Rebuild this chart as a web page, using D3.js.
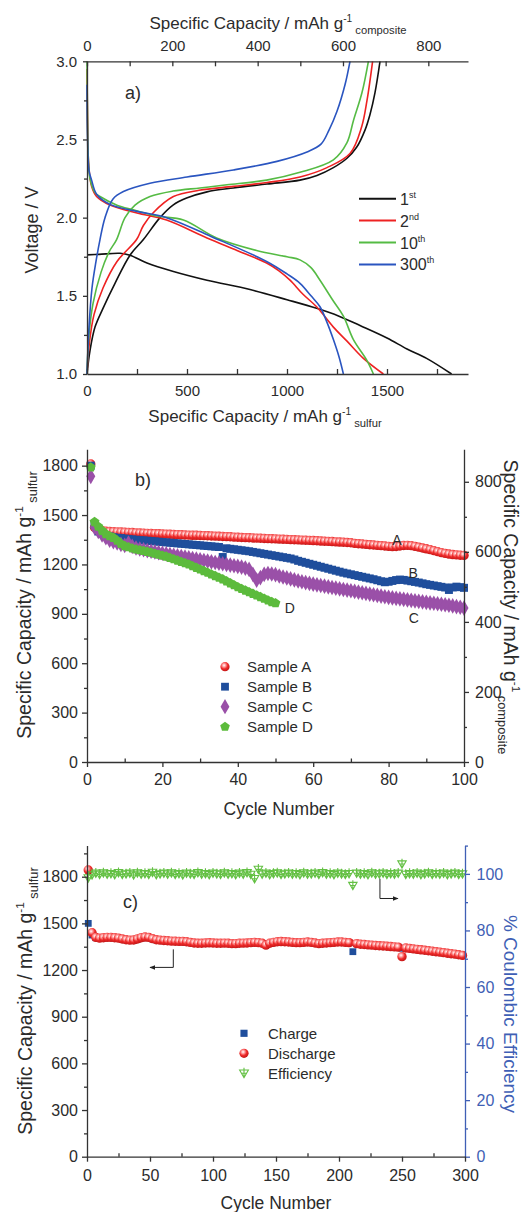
<!DOCTYPE html>
<html lang="en">
<head>
<meta charset="utf-8">
<script src="https://cdn.jsdelivr.net/npm/d3@7"></script>
<style>
  body { margin: 0; background: #fff; }
  svg text { font-family: "Liberation Sans", Arial, Helvetica, sans-serif; fill: #2b2b2b; }
  .axis path, .axis line { stroke: #333; stroke-width: 1.3; }
</style>
</head>
<body>
<svg id="fig" width="530" height="1212"></svg>
<script>
// ---------- panel a: voltage profiles [capacity mAh/g sulfur, voltage V] ----------
var chg1st = [[0,1.0],[15,1.15],[40,1.3],[80,1.42],[140,1.58],[215,1.76],[282,1.86],[365,2.0],[430,2.08],[498,2.125],[600,2.165],[732,2.19],[900,2.215],[1065,2.24],[1150,2.27],[1232,2.32],[1300,2.38],[1348,2.45],[1390,2.56],[1415,2.66],[1440,2.8],[1465,3.0]];
var dis1st = [[0,1.762],[60,1.765],[165,1.772],[215,1.76],[300,1.71],[432,1.656],[600,1.6],[815,1.54],[1000,1.475],[1148,1.42],[1260,1.37],[1365,1.31],[1500,1.23],[1600,1.16],[1698,1.10],[1823,1.0]];
var chg2nd = [[0,1.0],[12,1.2],[35,1.38],[80,1.55],[150,1.72],[248,1.86],[282,1.95],[330,2.03],[432,2.135],[560,2.175],[732,2.2],[900,2.225],[1065,2.26],[1200,2.32],[1315,2.41],[1373,2.58],[1400,2.75],[1428,3.0]];
var dis2nd = [[0,2.95],[3,2.6],[8,2.35],[23,2.2],[48,2.135],[115,2.08],[250,2.03],[398,1.985],[600,1.87],[750,1.79],[898,1.71],[960,1.66],[1015,1.6],[1080,1.51],[1148,1.43],[1232,1.30],[1300,1.21],[1382,1.10],[1482,1.0]];
var chg10th = [[0,1.0],[10,1.25],[30,1.45],[70,1.65],[110,1.78],[148,1.86],[190,2.0],[240,2.08],[315,2.135],[430,2.17],[565,2.19],[700,2.21],[898,2.24],[1065,2.29],[1232,2.37],[1300,2.48],[1332,2.62],[1375,2.8],[1407,3.0]];
var dis10th = [[0,3.0],[2,2.7],[6,2.4],[15,2.25],[40,2.16],[65,2.135],[150,2.08],[232,2.05],[350,2.01],[482,1.985],[648,1.87],[848,1.79],[1000,1.75],[1065,1.73],[1120,1.68],[1165,1.6],[1230,1.47],[1282,1.37],[1332,1.22],[1398,1.09],[1432,1.0]];
var chg300th = [[0,1.0],[10,1.3],[25,1.55],[45,1.72],[65,1.86],[90,2.0],[130,2.12],[182,2.167],[315,2.22],[500,2.26],[732,2.305],[950,2.36],[1100,2.42],[1170,2.47],[1210,2.56],[1250,2.68],[1290,2.85],[1315,3.0]];
var dis300th = [[0,2.85],[3,2.5],[10,2.3],[23,2.24],[48,2.15],[115,2.085],[250,2.04],[398,2.0],[620,1.88],[898,1.72],[1000,1.64],[1065,1.58],[1120,1.5],[1165,1.43],[1200,1.33],[1232,1.22],[1260,1.11],[1282,1.0]];
var cycleNames = ["1", "2", "10", "300"];
var cycleSups = ["st", "nd", "th", "th"];
var cycleColors = ["#111111", "#ee2222", "#55bb44", "#2a55c0"];

var aSulfurTicks = [0, 500, 1000, 1500], aSulfurMinor = [250, 750, 1250, 1750];
var aCompTicks = [0, 200, 400, 600, 800], aCompMinor = [100, 300, 500, 700];
var aVoltTicks = [1.0, 1.5, 2.0, 2.5, 3.0], aVoltMinor = [1.25, 1.75, 2.25, 2.75];

// ---------- panel b: cycling of four samples (mAh/g sulfur) ----------
var bCycles = d3.range(1, 101);
var sampleA = [1810,1425,1412,1405,1402,1400,1399,1398,1397,1396,
  1395,1394,1392,1391,1390,1389,1388,1387,1386,1385,
  1384,1383,1382,1381,1380,1379,1378,1377,1377,1376,
  1375,1374,1373,1372,1371,1370,1369,1368,1366,1365,
  1364,1363,1362,1361,1360,1359,1358,1357,1356,1355,
  1354,1353,1352,1351,1350,1349,1348,1347,1346,1345,
  1344,1342,1341,1340,1339,1337,1336,1335,1333,1332,
  1328,1326,1324,1322,1320,1318,1316,1314,1312,1310,
  1308,1309,1312,1315,1316,1314,1310,1305,1300,1295,
  1290,1284,1278,1272,1267,1263,1260,1258,1256,1255];
var sampleB = [1800,1440,1400,1385,1375,1370,1365,1362,1360,1357,
  1355,1352,1350,1348,1346,1344,1342,1340,1338,1336,
  1334,1332,1330,1328,1326,1324,1322,1320,1318,1316,
  1314,1312,1310,1308,1306,1245,1298,1295,1292,1289,
  1286,1283,1280,1276,1272,1268,1264,1260,1256,1252,
  1248,1244,1240,1236,1230,1222,1216,1210,1204,1198,
  1192,1186,1180,1174,1168,1162,1156,1150,1145,1140,
  1135,1130,1125,1120,1115,1110,1104,1098,1092,1095,
  1100,1105,1108,1106,1102,1098,1094,1090,1085,1080,
  1076,1072,1068,1064,1060,1045,1060,1065,1062,1058];
var sampleC = [1735,1425,1400,1380,1362,1348,1338,1330,1322,1316,
  1330,1310,1300,1294,1289,1284,1280,1276,1272,1268,
  1264,1260,1256,1252,1248,1244,1240,1236,1232,1228,
  1224,1220,1216,1212,1208,1204,1200,1196,1192,1188,
  1184,1178,1170,1140,1105,1120,1140,1145,1142,1138,
  1130,1124,1118,1112,1106,1100,1095,1090,1085,1080,
  1076,1072,1068,1064,1060,1056,1052,1048,1044,1040,
  1036,1032,1028,1024,1020,1016,1012,1008,1004,1000,
  997,994,991,988,985,982,979,976,973,970,
  967,964,961,958,955,952,948,944,940,935];
var sampleD = [1790,1458,1430,1405,1385,1372,1362,1345,1325,1312,
  1305,1298,1292,1287,1282,1277,1272,1266,1260,1254,
  1248,1240,1232,1224,1216,1208,1200,1190,1180,1170,
  1160,1150,1140,1130,1120,1110,1098,1086,1074,1062,
  1052,1042,1032,1022,1012,1002,992,982,972,965];
var sampleNames = ["Sample A", "Sample B", "Sample C", "Sample D"];
var bCycleTicks = [0, 20, 40, 60, 80, 100], bCycleMinor = [10, 30, 50, 70, 90];
var bCapTicks = [0, 300, 600, 900, 1200, 1500, 1800], bCapMinor = [150, 450, 750, 1050, 1350, 1650];
var bCompTicks = [0, 200, 400, 600, 800], bCompMinor = [100, 300, 500, 700];

// ---------- panel c: 300 cycles of one cell (every third cycle) ----------
var cCycles = d3.range(1, 300, 3);
var cCharge = [1500,1425,1408,1404,1406,1409,1409,1407,1403,1398,
  1394,1391,1392,1399,1406,1410,1408,1400,1394,1390,
  1388,1386,1384,1383,1382,1382,1380,1376,1372,1370,
  1371,1372,1374,1373,1371,1370,1372,1371,1369,1368,
  1371,1372,1373,1375,1376,1375,1371,1365,1371,1376,
  1381,1382,1381,1379,1377,1375,1375,1377,1379,1377,
  1373,1369,1371,1373,1375,1377,1379,1379,1377,1375,
  1318,1369,1365,1363,1361,1359,1357,1355,1354,1352,
  1350,1348,1346,1340,1341,1338,1335,1332,1329,1326,
  1323,1320,1317,1314,1311,1307,1304,1301,1297,1293];
var cDischarge = [1843,1440,1410,1405,1408,1410,1410,1408,1405,1400,
  1395,1392,1393,1400,1408,1412,1410,1402,1395,1392,
  1390,1388,1386,1385,1384,1384,1382,1378,1374,1372,
  1372,1374,1375,1374,1372,1372,1373,1372,1370,1370,
  1372,1373,1374,1376,1378,1376,1372,1360,1372,1378,
  1382,1383,1382,1380,1378,1376,1376,1378,1380,1378,
  1374,1370,1372,1374,1376,1378,1380,1380,1378,1376,
  1374,1370,1366,1364,1362,1360,1358,1356,1355,1353,
  1351,1349,1347,1286,1342,1339,1336,1333,1330,1327,
  1324,1321,1318,1315,1312,1308,1305,1302,1298,1294];
var cEfficiency = [98.6,99.6,100.2,99.8,100.3,99.9,100.1,99.7,100.4,99.8,
  100.0,100.2,99.6,100.3,99.9,100.1,99.8,100.5,99.7,100.0,
  100.2,99.9,100.3,99.8,100.1,99.6,100.2,100.0,99.8,100.4,
  99.9,100.1,99.7,100.2,100.0,99.8,100.3,99.9,100.1,99.7,
  100.2,99.9,100.4,99.8,98.3,101.6,99.9,100.2,99.7,100.1,
  100.3,99.8,100.0,100.2,99.9,100.1,99.7,100.3,99.9,100.0,
  100.2,99.8,100.4,99.9,100.1,99.7,100.2,100.0,99.8,100.1,
  95.9,100.2,99.9,100.1,99.7,100.3,99.9,100.0,100.2,99.8,
  100.1,99.9,100.2,103.5,99.8,100.1,99.9,100.2,99.7,100.0,
  100.3,99.8,100.1,99.9,100.2,99.7,100.0,100.2,99.8,100.0];
var cSeriesNames = ["Charge", "Discharge", "Efficiency"];
var cCycleTicks = [0, 50, 100, 150, 200, 250, 300], cCycleMinor = [25, 75, 125, 175, 225, 275];
var cCapTicks = [0, 300, 600, 900, 1200, 1500, 1800], cCapMinor = [150, 450, 750, 1050, 1350, 1650, 1950];
var cEffTicks = [0, 20, 40, 60, 80, 100], cEffMinor = [10, 30, 50, 70, 90, 110];

var svg = d3.select("#fig");
var FONT_T = 19.5;

// ---- defs: shaded ball and arrow head ----
var defs = svg.append("defs");
var grad = defs.append("radialGradient").attr("id", "ball")
  .attr("cx", "40%").attr("cy", "35%").attr("r", "65%");
grad.append("stop").attr("offset", "0%").attr("stop-color", "#ffffff");
grad.append("stop").attr("offset", "28%").attr("stop-color", "#ff9c9c");
grad.append("stop").attr("offset", "60%").attr("stop-color", "#ee2b2b");
grad.append("stop").attr("offset", "100%").attr("stop-color", "#c41616");
defs.append("marker").attr("id", "arr").attr("viewBox", "0 0 10 10")
  .attr("refX", 9).attr("refY", 5).attr("markerWidth", 6).attr("markerHeight", 6)
  .attr("orient", "auto")
  .append("path").attr("d", "M0,1L10,5L0,9Z").attr("fill", "#222");

// draw one axis as a major + minor pair
function addAxis(orient, scale, x, y, major, minor, o) {
  var mk = {left: d3.axisLeft, right: d3.axisRight, top: d3.axisTop, bottom: d3.axisBottom}[orient];
  var gMin = svg.append("g").attr("class", "axis").attr("transform", "translate(" + x + "," + y + ")")
    .call(mk(scale).tickValues(minor).tickSize(o.minor).tickFormat(""));
  gMin.select(".domain").remove();
  var g = svg.append("g").attr("class", "axis").attr("transform", "translate(" + x + "," + y + ")")
    .call(mk(scale).tickValues(major).tickSize(o.size).tickSizeOuter(0).tickPadding(o.pad)
      .tickFormat(o.fmt || d3.format("d")));
  g.selectAll("text").style("font-size", o.font + "px");
  if (o.color) {
    g.selectAll("path,line").style("stroke", o.color);
    gMin.selectAll("line").style("stroke", o.color);
    g.selectAll("text").style("fill", o.color);
  }
  return g;
}

// title with g^-1 and a subscript
function capTitle(x, y, rot, size, sub) {
  var t = svg.append("text").attr("transform", "translate(" + x + "," + y + ") rotate(" + rot + ")")
    .attr("text-anchor", "middle").style("font-size", size + "px");
  t.append("tspan").text("Specific Capacity / mAh g");
  t.append("tspan").text("-1").attr("dy", -0.42 * size).style("font-size", (size * 0.6) + "px");
  t.append("tspan").text(" " + sub).attr("dy", 0.72 * size).style("font-size", (size * 0.66) + "px");
  return t;
}

function pentagon(r) {
  var p = d3.path();
  for (var k = 0; k < 5; k++) {
    var a = -Math.PI / 2 + k * 2 * Math.PI / 5;
    if (k === 0) p.moveTo(r * Math.cos(a), r * Math.sin(a));
    else p.lineTo(r * Math.cos(a), r * Math.sin(a));
  }
  p.closePath();
  return p.toString();
}
function effSymbol(r) {
  return "M" + (-r) + "," + (-r * 0.75) + "L" + r + "," + (-r * 0.75) + "L0," + r + "Z" +
    "M0," + (-r * 1.25) + "L0," + r + "M" + (-r * 0.6) + ",0L" + (r * 0.6) + ",0";
}

// =================== panel a ===================
var xa = d3.scaleLinear().domain([0, 1905]).range([87, 468]);
var xaTop = d3.scaleLinear().domain([0, 893]).range([87, 468]);
var ya = d3.scaleLinear().domain([1, 3]).range([374, 61.3]);

var lineA = d3.line().x(function(d) { return xa(d[0]); }).y(function(d) { return ya(d[1]); })
  .curve(d3.curveCatmullRom.alpha(0.5));
var aCurves = [[chg1st, dis1st], [chg2nd, dis2nd], [chg10th, dis10th], [chg300th, dis300th]];
aCurves.forEach(function(pair, i) {
  pair.forEach(function(c) {
    svg.append("path").attr("d", lineA(c)).attr("fill", "none")
      .attr("stroke", cycleColors[i]).attr("stroke-width", 1.6);
  });
});

addAxis("left", ya, 87, 0, aVoltTicks, aVoltMinor, {size: 4, minor: 3, pad: 6, font: 15, fmt: d3.format(".1f")});
addAxis("bottom", xa, 0, 374, aSulfurTicks, aSulfurMinor, {size: -5, minor: -5, pad: 11, font: 15});
addAxis("top", xaTop, 0, 61.3, aCompTicks, aCompMinor, {size: -5, minor: -5, pad: 10, font: 15});

capTitle(278, 29, 0, 17, "composite");
capTitle(265, 422, 0, 17, "sulfur");
svg.append("text").attr("transform", "translate(38,230) rotate(-90)").attr("text-anchor", "middle")
  .style("font-size", "18px").text("Voltage / V");
svg.append("text").attr("x", 125).attr("y", 99).style("font-size", "18px").text("a)");

// legend a
cycleNames.forEach(function(n, i) {
  var ly = 198.7 + i * 21.9;
  svg.append("line").attr("x1", 359).attr("x2", 396).attr("y1", ly).attr("y2", ly)
    .attr("stroke", cycleColors[i]).attr("stroke-width", 2);
  var t = svg.append("text").attr("x", 400).attr("y", ly + 6).style("font-size", "16px");
  t.append("tspan").text(n);
  t.append("tspan").text(cycleSups[i]).attr("dy", -7).style("font-size", "9px");
});

// =================== panel b ===================
var xb = d3.scaleLinear().domain([0, 100]).range([87, 464]);
var yb = d3.scaleLinear().domain([0, 1900]).range([762, 449.2]);
var yb2 = d3.scaleLinear().domain([0, 893]).range([762, 449.2]);

var bSeries = [sampleA, sampleB, sampleC, sampleD];
var bColors = ["#e8282a", "#1f4e9c", "#9a50a8", "#5cbb3c"];
function drawMarker(g, kind, color, s) {
  if (kind === 0) g.append("circle").attr("r", s).attr("fill", "url(#ball)");
  else if (kind === 1) g.append("rect").attr("x", -s * 0.85).attr("y", -s * 0.85)
    .attr("width", s * 1.7).attr("height", s * 1.7).attr("fill", color);
  else if (kind === 2) g.append("path").attr("d", d3.symbol(d3.symbolDiamond, s * s * 3.2)()).attr("fill", color);
  else if (kind === 3) g.append("path").attr("d", pentagon(s * 1.1)).attr("fill", color);
}
bSeries.forEach(function(vals, si) {
  var gs = svg.append("g");
  vals.forEach(function(v, i) {
    var g = gs.append("g").attr("transform", "translate(" + xb(bCycles[i]) + "," + yb(v) + ")");
    drawMarker(g, si, bColors[si], 4.7);
  });
});

addAxis("left", yb, 87, 0, bCapTicks, bCapMinor, {size: 5, minor: 3, pad: 4, font: 16});
addAxis("right", yb2, 464, 0, bCompTicks, bCompMinor, {size: 5, minor: 3, pad: 6, font: 16});
addAxis("bottom", xb, 0, 762, bCycleTicks, bCycleMinor, {size: 5, minor: -3.5, pad: 6.5, font: 16});

capTitle(31, 605, -90, FONT_T, "sulfur");
capTitle(504, 607, 90, FONT_T, "composite");
svg.append("text").attr("x", 279).attr("y", 815).attr("text-anchor", "middle")
  .style("font-size", "17.5px").text("Cycle Number");
svg.append("text").attr("x", 135).attr("y", 486).style("font-size", "18px").text("b)");

// curve labels
var bLabels = [["A", 82.2, 1318], ["B", 86.5, 1117], ["C", 86.7, 844], ["D", 53.8, 905]];
bLabels.forEach(function(l) {
  svg.append("text").attr("x", xb(l[1])).attr("y", yb(l[2])).attr("text-anchor", "middle")
    .style("font-size", "14px").text(l[0]);
});

// legend b
sampleNames.forEach(function(n, i) {
  var ly = 666.7 + i * 20;
  var g = svg.append("g").attr("transform", "translate(225," + ly + ")");
  drawMarker(g, i, bColors[i], 4.6);
  svg.append("text").attr("x", 247).attr("y", ly + 5.5).style("font-size", "15px").text(n);
});

// =================== panel c ===================
var xc = d3.scaleLinear().domain([0, 300]).range([87, 465]);
var yc = d3.scaleLinear().domain([0, 2000]).range([1156.7, 845.6]);
var yc2 = d3.scaleLinear().domain([0, 110]).range([1156.7, 845.6]);
var effBlue = "#3f5fb5";

var gCh = svg.append("g");
cCharge.forEach(function(v, i) {
  var g = gCh.append("g").attr("transform", "translate(" + xc(cCycles[i]) + "," + yc(v) + ")");
  drawMarker(g, 1, "#1f4e9c", 4.0);
});
var gDis = svg.append("g");
cDischarge.forEach(function(v, i) {
  if (i === 70) return;
  var g = gDis.append("g").attr("transform", "translate(" + xc(cCycles[i]) + "," + yc(v) + ")");
  drawMarker(g, 0, "#e8282a", 4.7);
});
var gEff = svg.append("g");
cEfficiency.forEach(function(v, i) {
  gEff.append("path").attr("transform", "translate(" + xc(cCycles[i]) + "," + yc2(v) + ")")
    .attr("d", effSymbol(4.2)).attr("fill", "none").attr("stroke", "#63c043").attr("stroke-width", 1.1);
});

addAxis("left", yc, 87, 0, cCapTicks, cCapMinor, {size: 5, minor: 3, pad: 4, font: 16});
addAxis("right", yc2, 465, 0, cEffTicks, cEffMinor, {size: 5, minor: 3, pad: 6.5, font: 16, color: effBlue});
addAxis("bottom", xc, 0, 1156.7, cCycleTicks, cCycleMinor, {size: 5, minor: -3.5, pad: 8, font: 16});

capTitle(32, 1001, -90, FONT_T, "sulfur");
svg.append("text").attr("transform", "translate(504,1014) rotate(90)").attr("text-anchor", "middle")
  .style("font-size", "19px").style("fill", effBlue).text("% Coulombic Efficiency");
svg.append("text").attr("x", 276).attr("y", 1209).attr("text-anchor", "middle")
  .style("font-size", "17.5px").text("Cycle Number");
svg.append("text").attr("x", 123).attr("y", 908).style("font-size", "18px").text("c)");

// axis-pointer arrows
var arrowLine = d3.line();
svg.append("path").attr("d", arrowLine([[xc(232.5), yc2(98.3)], [xc(232.5), yc2(91.3)], [xc(246.8), yc2(91.3)]]))
  .attr("fill", "none").attr("stroke", "#222").attr("stroke-width", 1).attr("marker-end", "url(#arr)");
svg.append("path").attr("d", arrowLine([[xc(68.5), yc(1333)], [xc(68.5), yc(1217)], [xc(50), yc(1217)]]))
  .attr("fill", "none").attr("stroke", "#222").attr("stroke-width", 1).attr("marker-end", "url(#arr)");

// legend c
cSeriesNames.forEach(function(n, i) {
  var ly = 1033.3 + i * 20;
  var g = svg.append("g").attr("transform", "translate(244," + ly + ")");
  if (i === 0) drawMarker(g, 1, "#1f4e9c", 4.2);
  else if (i === 1) drawMarker(g, 0, "#e8282a", 4.6);
  else g.append("path").attr("d", effSymbol(4.4)).attr("fill", "none").attr("stroke", "#63c043").attr("stroke-width", 1.1);
  svg.append("text").attr("x", 268).attr("y", ly + 5.5).style("font-size", "15px").text(n);
});
</script>
</body>
</html>
